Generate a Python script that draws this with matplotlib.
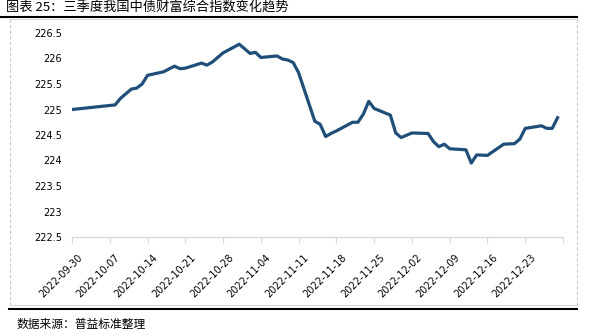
import matplotlib
matplotlib.use("Agg")
import matplotlib.pyplot as plt
import matplotlib.transforms as mtransforms
from matplotlib.lines import Line2D
import pandas as pd

plt.rcParams['font.family'] = ['Noto Sans CJK SC', 'DejaVu Sans']

# 中债财富综合指数（2022Q3-Q4）
dates = [
    "2022-09-30", "2022-10-08", "2022-10-09", "2022-10-11", "2022-10-12",
    "2022-10-13", "2022-10-14", "2022-10-17", "2022-10-19", "2022-10-20",
    "2022-10-21", "2022-10-24", "2022-10-25", "2022-10-26", "2022-10-28",
    "2022-10-31", "2022-11-02", "2022-11-03", "2022-11-04", "2022-11-07",
    "2022-11-08", "2022-11-09", "2022-11-10", "2022-11-11", "2022-11-14",
    "2022-11-15", "2022-11-16", "2022-11-17", "2022-11-18", "2022-11-21",
    "2022-11-22", "2022-11-23", "2022-11-24", "2022-11-25", "2022-11-28",
    "2022-11-29", "2022-11-30", "2022-12-02", "2022-12-05", "2022-12-06",
    "2022-12-07", "2022-12-08", "2022-12-09", "2022-12-12", "2022-12-13",
    "2022-12-14", "2022-12-16", "2022-12-19", "2022-12-21", "2022-12-22",
    "2022-12-23", "2022-12-26", "2022-12-27", "2022-12-28", "2022-12-29",
]
index_values = [
    225.00, 225.09, 225.22, 225.40, 225.42,
    225.50, 225.67, 225.74, 225.85, 225.80,
    225.81, 225.91, 225.87, 225.93, 226.11,
    226.28, 226.10, 226.12, 226.02, 226.05,
    225.99, 225.97, 225.92, 225.72, 224.77,
    224.71, 224.47, 224.53, 224.58, 224.75,
    224.75, 224.91, 225.16, 225.02, 224.89,
    224.54, 224.45, 224.54, 224.53, 224.37,
    224.27, 224.32, 224.23, 224.21, 223.95,
    224.11, 224.10, 224.32, 224.33, 224.42,
    224.63, 224.68, 224.63, 224.63, 224.84,
]
tick_dates = [
    "2022-09-30", "2022-10-07", "2022-10-14", "2022-10-21", "2022-10-28",
    "2022-11-04", "2022-11-11", "2022-11-18", "2022-11-25", "2022-12-02",
    "2022-12-09", "2022-12-16", "2022-12-23", "2022-12-30",
]
y_ticks = [222.5, 223, 223.5, 224, 224.5, 225, 225.5, 226, 226.5]

x = pd.to_datetime(dates)
ticks = pd.to_datetime(tick_dates)

W, H = 589, 336
fig = plt.figure(figsize=(W / 100, H / 100), dpi=100)
ax = fig.add_axes([72 / W, 1 - 237 / H, (563 - 72) / W, (237 - 33) / H])

ax.plot(x, index_values, color="#1f4e79", linewidth=2.3, solid_joinstyle="round")

ax.set_xlim(ticks[0], ticks[-1])
ax.set_ylim(222.5, 226.5)
ax.set_yticks(y_ticks)
ax.set_yticklabels([f"{v:g}" for v in y_ticks], fontsize=7, family="DejaVu Sans")
ax.set_xticks(ticks)
labels = [d.strftime("%Y-%m-%d") for d in ticks[:-1]] + [""]
ax.set_xticklabels(labels, rotation=45, ha="right", rotation_mode="anchor",
                   fontsize=7, family="DejaVu Sans")
ax.tick_params(axis="y", length=0, pad=7)
ax.tick_params(axis="x", length=4, color="#d9d9d9", pad=7)
# 日期标签整体右移几个像素
shift = mtransforms.ScaledTranslation(5 / 100, 0, fig.dpi_scale_trans)
for lbl in ax.get_xticklabels():
    lbl.set_transform(lbl.get_transform() + shift)
for s in ["top", "right", "left"]:
    ax.spines[s].set_visible(False)
ax.spines["bottom"].set_color("#d9d9d9")
ax.spines["bottom"].set_linewidth(1)

# 外框与标题、来源
def fig_line(x0, y0, x1, y1, **kw):
    fig.add_artist(Line2D([x0 / W, x1 / W], [1 - y0 / H, 1 - y1 / H],
                          transform=fig.transFigure, **kw))

fig_line(0, 17, 577, 17, color="black", linewidth=1.5)
fig_line(10, 19, 577, 19, color="#d9d9d9", linewidth=0.8)
fig_line(10, 19, 10, 305, color="#c8c8c8", linewidth=0.8, linestyle=(0, (3, 2)))
fig_line(577, 19, 577, 305, color="#c8c8c8", linewidth=0.8, linestyle=(0, (3, 2)))
fig_line(10, 305, 577, 305, color="#d9d9d9", linewidth=0.8)
fig_line(9, 308.5, 577, 308.5, color="black", linewidth=1.5)

fig.text(6 / W, 1 - 8 / H, "图表 25：三季度我国中债财富综合指数变化趋势",
         fontsize=9.5, va="center", ha="left")
fig.text(17 / W, 1 - 324 / H, "数据来源：普益标准整理",
         fontsize=8.5, va="center", ha="left")

fig.savefig("out.png", dpi=100)
